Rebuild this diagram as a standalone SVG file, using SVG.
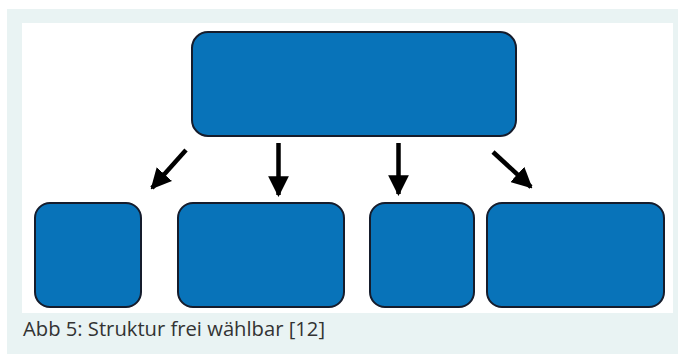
<svg xmlns="http://www.w3.org/2000/svg" width="678" height="354" viewBox="0 0 678 354">
<defs>
<style>
.node{fill:#0873b9;stroke:#151c2c;stroke-width:2}
.conn{stroke:#000;stroke-width:4.5;fill:none}
.cap{font-family:"Open Sans","Noto Sans",sans-serif;font-size:20px;fill:#333}
</style>
<marker id="ah" viewBox="0 0 10 10" refX="9" refY="5" markerWidth="4.6" markerHeight="4.6" markerUnits="strokeWidth" orient="auto">
<path d="M0,0 L10,5 L0,10 Z" fill="#000"/>
</marker>
</defs>
<rect width="678" height="354" fill="#fff"/>
<rect x="7" y="9" width="671" height="345" fill="#e9f3f3"/>
<rect x="22" y="23" width="651" height="290" fill="#fff"/>
<g id="top"><rect class="node" x="192" y="32" width="324" height="104" rx="16"/></g>
<g id="b1"><rect class="node" x="35" y="203" width="106" height="104" rx="15"/></g>
<g id="b2"><rect class="node" x="178" y="203" width="166" height="104" rx="15"/></g>
<g id="b3"><rect class="node" x="370" y="203" width="104" height="104" rx="15"/></g>
<g id="b4"><rect class="node" x="487" y="203" width="177" height="104" rx="15"/></g>
<g id="connectors">
<line class="conn" x1="186" y1="150" x2="152" y2="188" marker-end="url(#ah)"/>
<line class="conn" x1="278.5" y1="143" x2="278.5" y2="195" marker-end="url(#ah)"/>
<line class="conn" x1="398.5" y1="143" x2="398.5" y2="194" marker-end="url(#ah)"/>
<line class="conn" x1="493" y1="152" x2="531" y2="187" marker-end="url(#ah)"/>
</g>
<text class="cap" x="23" y="336" textLength="302" lengthAdjust="spacingAndGlyphs">Abb 5: Struktur frei wählbar [12]</text>
</svg>
